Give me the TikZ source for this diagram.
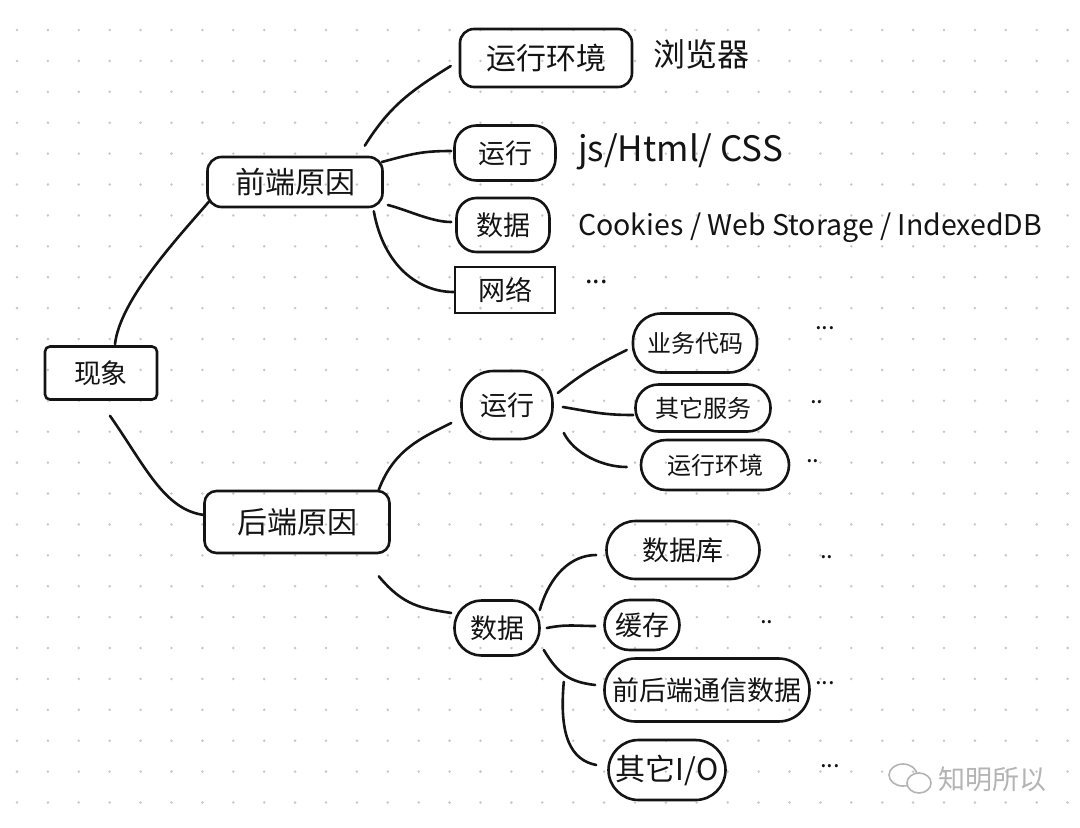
\documentclass[tikz,border=0pt]{standalone}
\usepackage{fontspec}
\setmainfont{Noto Sans CJK SC}
\usetikzlibrary{calc}
\definecolor{dotc}{RGB}{200,200,200}
\definecolor{ink}{RGB}{20,20,20}
\definecolor{wm}{RGB}{180,180,180}
\begin{document}
\begin{tikzpicture}[x=1pt,y=-1pt,
  bx/.style={draw=ink, line width=2.6pt, inner sep=0pt, text=ink},
  link/.style={draw=ink, line width=2.6pt, line cap=round},
  lbl/.style={text=ink, inner sep=0pt},
  f24/.style={font=\fontsize{24}{26}\selectfont},
  f27/.style={font=\fontsize{27}{29}\selectfont},
  f30/.style={font=\fontsize{30}{32}\selectfont}]
\useasboundingbox (0,0) rectangle (1080,828);
\fill[white] (0,0) rectangle (1080,828);
\foreach \i in {0,...,34}{\foreach \j in {0,...,25}{\fill[dotc] (17+\i*30.9,30+\j*30.9) circle (1.4);}}

% nodes
\node[bx, f27, rounded corners=5pt, minimum width=112pt, minimum height=53pt] (xx) at (101,373) {现象};
\node[bx, f30, rounded corners=14pt, minimum width=175pt, minimum height=50pt] (qd) at (295,182) {前端原因};
\node[bx, f30, rounded corners=12pt, minimum width=185pt, minimum height=62pt] (hd) at (297,522) {后端原因};

\node[bx, f30, rounded corners=14pt, minimum width=172pt, minimum height=58pt] (q1) at (546,58) {运行环境};
\node[lbl, font=\fontsize{32}{34}\selectfont, anchor=west] (q1t) at (653,54) {浏览器};
\node[bx, f27, rounded corners=22pt, minimum width=101pt, minimum height=55pt] (q2) at (505,153) {运行};
\node[lbl, font=\fontsize{35}{37}\selectfont, anchor=west] (q2t) at (578,152) {js/Html/ CSS};
\node[bx, f27, rounded corners=20pt, minimum width=93pt, minimum height=54pt] (q3) at (503,225) {数据};
\node[lbl, font=\fontsize{28.5}{30}\selectfont, anchor=west] (q3t) at (578,228) {Cookies / Web Storage / IndexedDB};
\node[bx, f27, minimum width=100pt, minimum height=46pt] (q4) at (505,290) {网络};
\node[lbl, f27, anchor=west] (q4t) at (585,282) {...};

\node[bx, f27, rounded corners=32pt, minimum width=91pt, minimum height=68pt] (hr) at (507,405) {运行};
\node[bx, f24, rounded corners=28pt, minimum width=124pt, minimum height=59pt] (hr1) at (695,343) {业务代码};
\node[bx, f24, rounded corners=23pt, minimum width=135pt, minimum height=47pt] (hr2) at (703,408) {其它服务};
\node[bx, f24, rounded corners=25pt, minimum width=148pt, minimum height=50pt] (hr3) at (715,465) {运行环境};
\node[lbl, f24, anchor=west] (hr1t) at (815,328) {...};
\node[lbl, f24, anchor=west] (hr2t) at (810,402) {..};
\node[lbl, f24, anchor=west] (hr3t) at (806,461) {..};

\node[bx, f27, rounded corners=27pt, minimum width=85pt, minimum height=55pt] (hs) at (497,628) {数据};
\node[bx, f27, rounded corners=29pt, minimum width=153pt, minimum height=58pt] (hs1) at (683,550) {数据库};
\node[bx, f27, rounded corners=25pt, minimum width=75pt, minimum height=50pt] (hs2) at (642,625) {缓存};
\node[bx, f27, rounded corners=31pt, minimum width=205pt, minimum height=63pt] (hs3) at (707,690) {前后端通信数据};
\node[bx, f30, rounded corners=30pt, minimum width=117pt, minimum height=60pt] (hs4) at (667,770) {其它I/O};
\node[lbl, f24, anchor=west] (hs1t) at (820,557) {..};
\node[lbl, f24, anchor=west] (hs2t) at (760,622) {..};
\node[lbl, f24, anchor=west] (hs3t) at (815,683) {...};
\node[lbl, f24, anchor=west] (hs4t) at (820,766) {...};

% connectors
\draw[link] ($(xx.north)+(14,-1)$) .. controls +(5,-45) and +(-30,35) .. ($(qd.south west)+(3,-7)$);
\draw[link] ($(xx.south)+(9,15)$) .. controls +(35,50) and +(-40,-5) .. ($(hd.west)+(1,-7)$);
\draw[link] ($(qd.north east)+(-19,-10)$) .. controls +(25,-40) and +(-40,25) .. ($(q1.west)+(-8,8)$);
\draw[link] ($(qd.east)+(-2,-20)$) .. controls +(30,-8) and +(-30,0) .. ($(q2.west)+(-2,-2)$);
\draw[link] ($(qd.east)+(4,23)$) .. controls +(20,5) and +(-20,0) .. ($(q3.west)+(-4,-3)$);
\draw[link] ($(qd.south east)+(-10,3)$) .. controls +(10,55) and +(-35,0) .. ($(q4.west)+(0,2)$);

\draw[link] ($(hd.north east)+(-12,0)$) .. controls +(15,-40) and +(-30,15) .. ($(hr.west)+(-9,18)$);
\draw[link] ($(hd.south east)+(-12,22)$) .. controls +(25,30) and +(-30,-5) .. ($(hs.west)+(-2,-15)$);

\draw[link] ($(hr.east)+(4,-12)$) .. controls +(25,-20) and +(-30,15) .. ($(hr1.west)+(-5,7)$);
\draw[link] ($(hr.east)+(9,2)$) .. controls +(30,5) and +(-30,0) .. ($(hr2.west)+(-1,7)$);
\draw[link] ($(hr.east)+(10,28)$) .. controls +(10,20) and +(-25,0) .. ($(hr3.west)+(-13,2)$);

\draw[link] ($(hs.east)+(-1,-18)$) .. controls +(10,-35) and +(-25,0) .. ($(hs1.west)+(-9,5)$);
\draw[link] ($(hs.east)+(6,0)$) .. controls +(20,-4) and +(-20,0) .. ($(hs2.west)+(-8,1)$);
\draw[link] ($(hs.east)+(3,22)$) .. controls +(15,25) and +(-25,-3) .. ($(hs3.west)+(-8,-5)$);
\draw[link] ($(hs.south east)+(23,25)$) .. controls +(-5,55) and +(-25,-5) .. ($(hs4.west)+(-11,-5)$);

% watermark
\draw[wm, line width=1.6pt] (903,775) ellipse (14 and 11);
\draw[wm, line width=1.6pt, fill=white] (919,783) ellipse (12 and 10);
\node[text=wm, font=\fontsize{27}{29}\selectfont, anchor=west, inner sep=0pt] (wmt) at (938,779) {知明所以};
\end{tikzpicture}
\end{document}
